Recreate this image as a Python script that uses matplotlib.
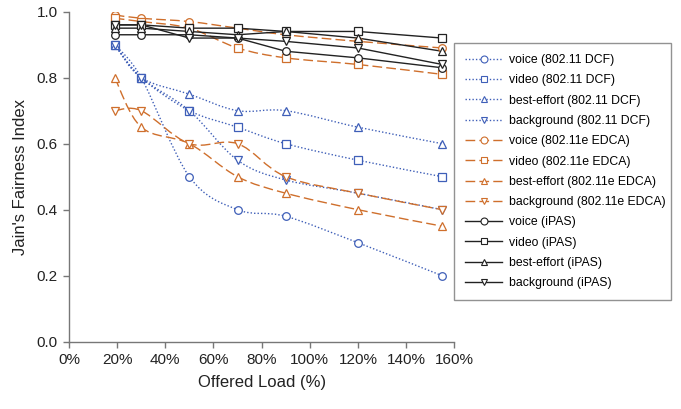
import numpy as np
import matplotlib
matplotlib.use("Agg")
import matplotlib.pyplot as plt
from matplotlib.path import Path
from matplotlib.patches import PathPatch
from matplotlib.lines import Line2D

plt.rcParams['font.family'] = ['Liberation Sans', 'DejaVu Sans']

# Offered load (%)
load = [19, 30, 50, 70, 90, 120, 155]

# Jain's fairness index per access category
dcf_voice = [0.90, 0.80, 0.50, 0.40, 0.38, 0.30, 0.20]
dcf_video = [0.90, 0.80, 0.70, 0.65, 0.60, 0.55, 0.50]
dcf_be = [0.90, 0.80, 0.75, 0.70, 0.70, 0.65, 0.60]
dcf_bg = [0.90, 0.80, 0.70, 0.55, 0.49, 0.45, 0.40]

edca_voice = [0.99, 0.98, 0.97, 0.95, 0.93, 0.91, 0.89]
edca_video = [0.98, 0.97, 0.95, 0.89, 0.86, 0.84, 0.81]
edca_be = [0.80, 0.65, 0.60, 0.50, 0.45, 0.40, 0.35]
edca_bg = [0.70, 0.70, 0.60, 0.60, 0.50, 0.45, 0.40]

ipas_voice = [0.93, 0.93, 0.93, 0.92, 0.88, 0.86, 0.83]
ipas_video = [0.96, 0.96, 0.95, 0.95, 0.94, 0.94, 0.92]
ipas_be = [0.95, 0.95, 0.94, 0.93, 0.94, 0.92, 0.88]
ipas_bg = [0.96, 0.96, 0.92, 0.92, 0.91, 0.89, 0.84]

x_ticks = [0, 20, 40, 60, 80, 100, 120, 140, 160]
y_ticks = [0.0, 0.2, 0.4, 0.6, 0.8, 1.0]

BLUE = '#3f5fb8'
ORANGE = '#cf6f2c'
BLACK = '#222222'

DOT = (0, (1, 1.5))
DASH = (0, (7, 3))

series = [
    ('voice (802.11 DCF)', dcf_voice, BLUE, DOT, 'o', True),
    ('video (802.11 DCF)', dcf_video, BLUE, DOT, 's', True),
    ('best-effort (802.11 DCF)', dcf_be, BLUE, DOT, '^', True),
    ('background (802.11 DCF)', dcf_bg, BLUE, DOT, 'v', True),
    ('voice (802.11e EDCA)', edca_voice, ORANGE, DASH, 'o', True),
    ('video (802.11e EDCA)', edca_video, ORANGE, DASH, 's', True),
    ('best-effort (802.11e EDCA)', edca_be, ORANGE, DASH, '^', True),
    ('background (802.11e EDCA)', edca_bg, ORANGE, DASH, 'v', True),
    ('voice (iPAS)', ipas_voice, BLACK, '-', 'o', False),
    ('video (iPAS)', ipas_video, BLACK, '-', 's', False),
    ('best-effort (iPAS)', ipas_be, BLACK, '-', '^', False),
    ('background (iPAS)', ipas_bg, BLACK, '-', 'v', False),
]


def smooth_path(xs, ys):
    """Cubic Bezier path through the points (Catmull-Rom style smoothing)."""
    pts = np.column_stack([xs, ys]).astype(float)
    n = len(pts)
    verts = [pts[0]]
    codes = [Path.MOVETO]
    for i in range(n - 1):
        p0 = pts[i - 1] if i > 0 else pts[i]
        p1 = pts[i]
        p2 = pts[i + 1]
        p3 = pts[i + 2] if i + 2 < n else pts[i + 1]
        c1 = p1 + (p2 - p0) / 6.0
        c2 = p2 - (p3 - p1) / 6.0
        verts += [c1, c2, p2]
        codes += [Path.CURVE4] * 3
    return Path(verts, codes)


fig = plt.figure(figsize=(6.81, 4.09), dpi=100)
ax = fig.add_axes([0.1013, 0.1645, 0.5657, 0.807])

handles = []
for label, vals, color, ls, mk, smooth in series:
    if smooth:
        patch = PathPatch(smooth_path(load, vals), facecolor='none', edgecolor=color,
                          linewidth=1.0, linestyle=ls, zorder=2)
        ax.add_patch(patch)
    else:
        ax.plot(load, vals, color=color, linestyle=ls, linewidth=1.0, zorder=2)
    ax.plot(load, vals, linestyle='none', marker=mk, markersize=5.5,
            markerfacecolor='white', markeredgecolor=color, markeredgewidth=0.9,
            zorder=3)
    handles.append(Line2D([0], [0], color=color, linestyle=ls, linewidth=1.0,
                          marker=mk, markersize=5, markerfacecolor='white',
                          markeredgecolor=color, markeredgewidth=0.8, label=label))

ax.set_xlim(0, 160)
ax.set_ylim(0, 1.0)
ax.set_xticks(x_ticks)
ax.set_xticklabels([f'{t}%' for t in x_ticks])
ax.set_yticks(y_ticks)
ax.set_yticklabels([f'{t:.1f}' for t in y_ticks])

for side in ('top', 'right'):
    ax.spines[side].set_visible(False)
for side in ('left', 'bottom'):
    ax.spines[side].set_color('#777777')
    ax.spines[side].set_linewidth(1.0)
ax.tick_params(axis='both', direction='out', length=4, width=1.0,
               color='#777777', labelsize=11, labelcolor='#222222', pad=4)

ax.set_xlabel('Offered Load (%)', fontsize=12, color='#222222', labelpad=6)
ax.set_ylabel("Jain's Fairness Index", fontsize=12, color='#222222', labelpad=6)

leg = fig.legend(handles=handles, loc='upper left',
                 bbox_to_anchor=(0.667, 0.895, 0.319, 0.0),
                 mode='expand', fontsize=8.8, frameon=True, fancybox=False,
                 edgecolor='#777777', handlelength=3.0, handletextpad=0.6,
                 labelspacing=0.68, borderpad=0.9, borderaxespad=0.0)
leg.get_frame().set_linewidth(1.0)

fig.savefig('out.png', dpi=100)
